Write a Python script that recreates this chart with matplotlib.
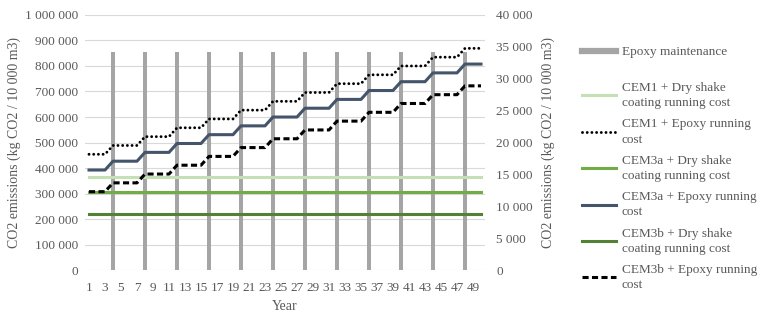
import matplotlib
matplotlib.use("Agg")
import matplotlib.pyplot as plt
from matplotlib.lines import Line2D
from matplotlib.ticker import FuncFormatter, MultipleLocator

plt.rcParams['font.family'] = ['Liberation Serif', 'DejaVu Serif']

years = list(range(1, 51))
xtick_labels = [str(y) for y in range(1, 51, 2)]

# Epoxy maintenance events (left axis)
maint_years = [4, 8, 12, 16, 20, 24, 28, 32, 36, 40, 44, 48]
maint_values = [855000] * 12

# Running-cost lines (right axis, kg CO2 / 10 000 m3)
cem1_dry = [14570, 14570, 14570, 14570, 14570, 14570, 14570, 14570, 14570, 14570,
            14570, 14570, 14570, 14570, 14570, 14570, 14570, 14570, 14570, 14570,
            14570, 14570, 14570, 14570, 14570, 14570, 14570, 14570, 14570, 14570,
            14570, 14570, 14570, 14570, 14570, 14570, 14570, 14570, 14570, 14570,
            14570, 14570, 14570, 14570, 14570, 14570, 14570, 14570, 14570, 14570]
cem1_epoxy = [18170, 18170, 18170, 19550, 19550, 19550, 19550, 20930, 20930, 20930,
              20930, 22320, 22320, 22320, 22320, 23700, 23700, 23700, 23700, 25080,
              25080, 25080, 25080, 26460, 26460, 26460, 26460, 27840, 27840, 27840,
              27840, 29220, 29220, 29220, 29220, 30610, 30610, 30610, 30610, 31990,
              31990, 31990, 31990, 33370, 33370, 33370, 33370, 34750, 34750, 34750]
cem3a_dry = [12220, 12220, 12220, 12220, 12220, 12220, 12220, 12220, 12220, 12220,
             12220, 12220, 12220, 12220, 12220, 12220, 12220, 12220, 12220, 12220,
             12220, 12220, 12220, 12220, 12220, 12220, 12220, 12220, 12220, 12220,
             12220, 12220, 12220, 12220, 12220, 12220, 12220, 12220, 12220, 12220,
             12220, 12220, 12220, 12220, 12220, 12220, 12220, 12220, 12220, 12220]
cem3a_epoxy = [15710, 15710, 15710, 17090, 17090, 17090, 17090, 18470, 18470, 18470,
               18470, 19860, 19860, 19860, 19860, 21240, 21240, 21240, 21240, 22620,
               22620, 22620, 22620, 24000, 24000, 24000, 24000, 25380, 25380, 25380,
               25380, 26760, 26760, 26760, 26760, 28150, 28150, 28150, 28150, 29530,
               29530, 29530, 29530, 30910, 30910, 30910, 30910, 32290, 32290, 32290]
cem3b_dry = [8830, 8830, 8830, 8830, 8830, 8830, 8830, 8830, 8830, 8830,
             8830, 8830, 8830, 8830, 8830, 8830, 8830, 8830, 8830, 8830,
             8830, 8830, 8830, 8830, 8830, 8830, 8830, 8830, 8830, 8830,
             8830, 8830, 8830, 8830, 8830, 8830, 8830, 8830, 8830, 8830,
             8830, 8830, 8830, 8830, 8830, 8830, 8830, 8830, 8830, 8830]
cem3b_epoxy = [12320, 12320, 12320, 13700, 13700, 13700, 13700, 15080, 15080, 15080,
               15080, 16460, 16460, 16460, 16460, 17840, 17840, 17840, 17840, 19220,
               19220, 19220, 19220, 20600, 20600, 20600, 20600, 21980, 21980, 21980,
               21980, 23360, 23360, 23360, 23360, 24740, 24740, 24740, 24740, 26120,
               26120, 26120, 26120, 27500, 27500, 27500, 27500, 28880, 28880, 28880]

TXT = '#595959'
GRID = '#D9D9D9'
FS = 9.5

fig = plt.figure(figsize=(7.6, 3.22), dpi=100)
ax = fig.add_axes([85/760, 1-270.4/322, 400/760, (270.4-14.8)/322])
ax2 = ax.twinx()

ax.bar(maint_years, maint_values, width=0.5, color='#A5A5A5', zorder=2)
ax.set_ylim(0, 1000000)
ax.set_xlim(0.5, 50.5)
ax.yaxis.set_major_locator(MultipleLocator(100000))
ax.yaxis.grid(True, color=GRID, lw=0.8, zorder=0)
ax.set_axisbelow(True)

fmt = FuncFormatter(lambda v, p: f"{int(v):,}".replace(",", " "))
ax.yaxis.set_major_formatter(fmt)

ax2.set_ylim(0, 40000)
ax2.yaxis.set_major_locator(MultipleLocator(5000))
ax2.yaxis.set_major_formatter(fmt)

lw = 2.2
ax2.plot(years, cem1_dry, color='#C5E0B4', lw=lw, label='CEM1 + Dry shake\ncoating running cost')
ax2.plot(years, cem1_epoxy, color='black', lw=2.1, linestyle=(0, (0.01, 1.6)),
         dash_capstyle='round', label='CEM1 + Epoxy running\ncost')
ax2.plot(years, cem3a_dry, color='#70AD47', lw=lw, label='CEM3a + Dry shake\ncoating running cost')
ax2.plot(years, cem3a_epoxy, color='#44546A', lw=lw, label='CEM3a + Epoxy running\ncost')
ax2.plot(years, cem3b_dry, color='#548235', lw=lw, label='CEM3b + Dry shake\ncoating running cost')
ax2.plot(years, cem3b_epoxy, color='black', lw=lw, linestyle=(0, (2.0, 1.1)),
         dash_capstyle='butt', label='CEM3b + Epoxy running\ncost')

ax.set_xticks(range(1, 51, 2))
ax.set_xticklabels(xtick_labels)

for a in (ax, ax2):
    for s in a.spines.values():
        s.set_visible(False)
    a.tick_params(axis='both', length=0, labelsize=FS, colors=TXT)
ax.tick_params(axis='y', pad=5)
ax2.tick_params(axis='y', pad=8)
ax.tick_params(axis='x', pad=8)

ax.set_xlabel('Year', fontsize=FS + 0.5, color=TXT, labelpad=5)
ax.set_ylabel('CO2 emissions (kg CO2 / 10 000 m3)', fontsize=FS + 0.5, color=TXT, labelpad=3)
ax2.set_ylabel('CO2 emissions (kg CO2 / 10 000 m3)', fontsize=FS + 0.5, color=TXT, labelpad=6)

# Legends
h1 = [Line2D([0], [0], color='#A5A5A5', lw=4.5)]
leg1 = fig.legend(h1, ['Epoxy maintenance'], loc='upper left',
                  bbox_to_anchor=(582/760, 1-46/322), frameon=False, fontsize=FS,
                  handlelength=2.6, handletextpad=0.4, borderpad=0, borderaxespad=0)
for t in leg1.get_texts():
    t.set_color(TXT)

handles, labels = ax2.get_legend_handles_labels()
leg2 = fig.legend(handles, labels, loc='upper left',
                  bbox_to_anchor=(582/760, 1-82/322), frameon=False, fontsize=FS,
                  handlelength=2.6, handletextpad=0.4, borderpad=0, borderaxespad=0,
                  labelspacing=0.7)
for t in leg2.get_texts():
    t.set_color(TXT)
    t.set_linespacing(1.35)

fig.savefig('out.png', dpi=100)
